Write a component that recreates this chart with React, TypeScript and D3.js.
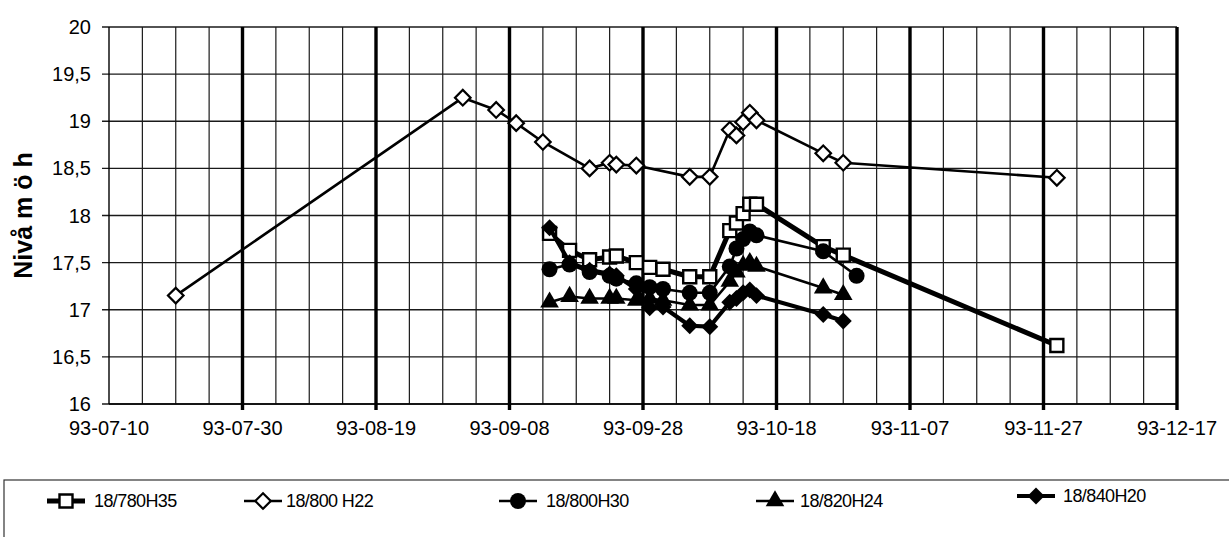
import React from "react";
import * as d3 from "d3";

// Axis ticks
const tickLabels = [
  "93-07-10", "93-07-30", "93-08-19", "93-09-08", "93-09-28",
  "93-10-18", "93-11-07", "93-11-27", "93-12-17",
];
const yTicks = [16, 16.5, 17, 17.5, 18, 18.5, 19, 19.5, 20];

// Measurement dates shared by the well series in the autumn campaign
const campaignDates = [
  "93-09-14", "93-09-17", "93-09-20", "93-09-23", "93-09-24", "93-09-27",
  "93-09-29", "93-10-01", "93-10-05", "93-10-08", "93-10-11", "93-10-12",
  "93-10-13", "93-10-14", "93-10-15", "93-10-25", "93-10-28",
];

// 18/780H35
const datesH35 = [...campaignDates, "93-11-29"];
const valuesH35 = [
  17.81, 17.63, 17.53, 17.56, 17.57, 17.5, 17.45, 17.43, 17.35, 17.35,
  17.84, 17.92, 18.02, 18.12, 18.12, 17.67, 17.58, 16.62,
];

// 18/800 H22
const datesH22 = [
  "93-07-20", "93-09-01", "93-09-06", "93-09-09", "93-09-13", "93-09-20",
  "93-09-23", "93-09-24", "93-09-27", "93-10-05", "93-10-08", "93-10-11",
  "93-10-12", "93-10-13", "93-10-14", "93-10-15", "93-10-25", "93-10-28",
  "93-11-29",
];
const valuesH22 = [
  17.15, 19.25, 19.12, 18.98, 18.78, 18.5, 18.56, 18.54, 18.53, 18.41,
  18.41, 18.91, 18.85, 18.99, 19.09, 19.01, 18.66, 18.56, 18.4,
];

// 18/800H30
const datesH30 = [...campaignDates.slice(0, 16), "93-10-30"];
const valuesH30 = [
  17.43, 17.48, 17.4, 17.36, 17.33, 17.28, 17.24, 17.22, 17.18, 17.18,
  17.46, 17.65, 17.75, 17.83, 17.79, 17.62, 17.36,
];

// 18/820H24
const datesH24 = campaignDates;
const valuesH24 = [
  17.08, 17.14, 17.12, 17.12, 17.12, 17.1, 17.12, 17.1, 17.05, 17.05,
  17.3, 17.4, 17.47, 17.5, 17.46, 17.23, 17.16,
];

// 18/840H20
const datesH20 = campaignDates;
const valuesH20 = [
  17.87, 17.5, 17.42, 17.38, 17.36, 17.22, 17.02, 17.03, 16.83, 16.82,
  17.08, 17.12, 17.18, 17.21, 17.15, 16.95, 16.88,
];

const seriesNames = ["18/780H35", "18/800 H22", "18/800H30", "18/820H24", "18/840H20"];

const parse = d3.timeParse("%y-%m-%d");

type MarkerKind = "square" | "diamond" | "circle" | "triangle" | "filledDiamond";

interface SeriesStyle {
  dates: string[];
  values: number[];
  lineWidth: number;
  marker: MarkerKind;
}

const seriesStyles: SeriesStyle[] = [
  { dates: datesH35, values: valuesH35, lineWidth: 5, marker: "square" },
  { dates: datesH22, values: valuesH22, lineWidth: 2.6, marker: "diamond" },
  { dates: datesH30, values: valuesH30, lineWidth: 2.6, marker: "circle" },
  { dates: datesH24, values: valuesH24, lineWidth: 2.6, marker: "triangle" },
  { dates: datesH20, values: valuesH20, lineWidth: 4.2, marker: "filledDiamond" },
];

const FONT = "'Liberation Sans', Arial, Helvetica, sans-serif";

function Marker({ kind, x, y }: { kind: MarkerKind; x: number; y: number }) {
  switch (kind) {
    case "square":
      return (
        <path
          d={d3.symbol(d3.symbolSquare, 13 * 13)() || ""}
          transform={`translate(${x},${y})`}
          fill="#fff"
          stroke="#000"
          strokeWidth={2.4}
        />
      );
    case "diamond":
      return (
        <path
          d={d3.symbol(d3.symbolSquare, 11 * 11)() || ""}
          transform={`translate(${x},${y}) rotate(45)`}
          fill="#fff"
          stroke="#000"
          strokeWidth={2.2}
        />
      );
    case "circle":
      return <circle cx={x} cy={y} r={8} fill="#000" />;
    case "triangle":
      return (
        <path
          d={d3.symbol(d3.symbolTriangle, 150)() || ""}
          transform={`translate(${x},${y})`}
          fill="#000"
        />
      );
    case "filledDiamond":
      return (
        <path
          d={d3.symbol(d3.symbolSquare, 12 * 12)() || ""}
          transform={`translate(${x},${y}) rotate(45)`}
          fill="#000"
        />
      );
  }
}

export default function App() {
  const width = 1229;
  const height = 537;
  const left = 109;
  const right = 1177;
  const top = 27;
  const bottom = 404;

  const majorDates = tickLabels.map((t) => parse(t) as Date);
  const start = majorDates[0];
  const end = majorDates[majorDates.length - 1];
  const x = d3.scaleTime().domain([start, end]).range([left, right]);
  const y = d3.scaleLinear().domain([16, 20]).range([bottom, top]);

  // minor vertical grid every 5 days, counted from the axis start
  const spanDays = d3.timeDay.count(start, end);
  const minorDates = d3
    .range(5, spanDays, 5)
    .filter((n) => n % 20 !== 0)
    .map((n) => d3.timeDay.offset(start, n));

  const line = d3
    .line<{ date: Date; value: number }>()
    .x((d) => x(d.date))
    .y((d) => y(d.value));

  const series = seriesStyles.map((s) => ({
    ...s,
    points: s.dates.map((d, i) => ({ date: parse(d) as Date, value: s.values[i] })),
  }));

  const legendPos = [
    { m: 66, t: 94, y: 501 },
    { m: 263, t: 286, y: 501 },
    { m: 518, t: 546, y: 501 },
    { m: 775, t: 800, y: 501 },
    { m: 1036, t: 1063, y: 496 },
  ];

  return (
    <svg
      width={width}
      height={height}
      style={{ position: "fixed", left: 0, top: 0, background: "#fff" }}
      fontFamily={FONT}
    >
      <rect x={0} y={0} width={width} height={height} fill="#fff" />

      {/* horizontal grid */}
      {yTicks.map((v) => (
        <line
          key={`h${v}`}
          x1={left - 7}
          x2={right}
          y1={y(v)}
          y2={y(v)}
          stroke="#1a1a1a"
          strokeWidth={1.4}
        />
      ))}

      {/* minor vertical grid */}
      {minorDates.map((d) => (
        <line
          key={`m${+d}`}
          x1={x(d)}
          x2={x(d)}
          y1={top}
          y2={bottom}
          stroke="#1a1a1a"
          strokeWidth={1.2}
        />
      ))}

      {/* major vertical grid */}
      {majorDates.map((d, i) => (
        <line
          key={`M${i}`}
          x1={x(d)}
          x2={x(d)}
          y1={top}
          y2={bottom + (i === 0 ? 0 : 6)}
          stroke="#000"
          strokeWidth={i === 0 ? 1.4 : 3.4}
        />
      ))}

      {/* bottom axis line */}
      <line x1={left} x2={right} y1={bottom} y2={bottom} stroke="#000" strokeWidth={1.6} />

      {/* y tick labels */}
      {yTicks.map((v) => (
        <text
          key={`yl${v}`}
          x={91}
          y={y(v)}
          dy="0.35em"
          textAnchor="end"
          fontSize={20}
          fill="#000"
        >
          {String(v).replace(".", ",")}
        </text>
      ))}

      {/* x tick labels */}
      {majorDates.map((d, i) => (
        <text
          key={`xl${i}`}
          x={x(d)}
          y={435}
          textAnchor="middle"
          fontSize={20}
          fill="#000"
        >
          {tickLabels[i]}
        </text>
      ))}

      {/* y axis title */}
      <text
        transform={`translate(32,${(top + bottom) / 2}) rotate(-90)`}
        textAnchor="middle"
        fontSize={25}
        fontWeight="bold"
        fill="#000"
      >
        Nivå m ö h
      </text>

      {/* series */}
      {series.map((s, i) => (
        <g key={`s${i}`}>
          <path
            d={line(s.points) || ""}
            fill="none"
            stroke="#000"
            strokeWidth={s.lineWidth}
            strokeLinejoin="round"
          />
          {s.points.map((p, j) => (
            <Marker key={j} kind={s.marker} x={x(p.date)} y={y(p.value)} />
          ))}
        </g>
      ))}

      {/* legend */}
      <rect x={4} y={480} width={1300} height={100} fill="none" stroke="#333" strokeWidth={1.2} />
      {series.map((s, i) => {
        const p = legendPos[i];
        return (
          <g key={`lg${i}`}>
            <line
              x1={p.m - 19}
              x2={p.m + 19}
              y1={p.y}
              y2={p.y}
              stroke="#000"
              strokeWidth={s.lineWidth}
            />
            <Marker kind={s.marker} x={p.m} y={p.y} />
            <text x={p.t} y={p.y} dy="0.35em" fontSize={18} fill="#000" letterSpacing={-0.6}>
              {seriesNames[i]}
            </text>
          </g>
        );
      })}
    </svg>
  );
}
